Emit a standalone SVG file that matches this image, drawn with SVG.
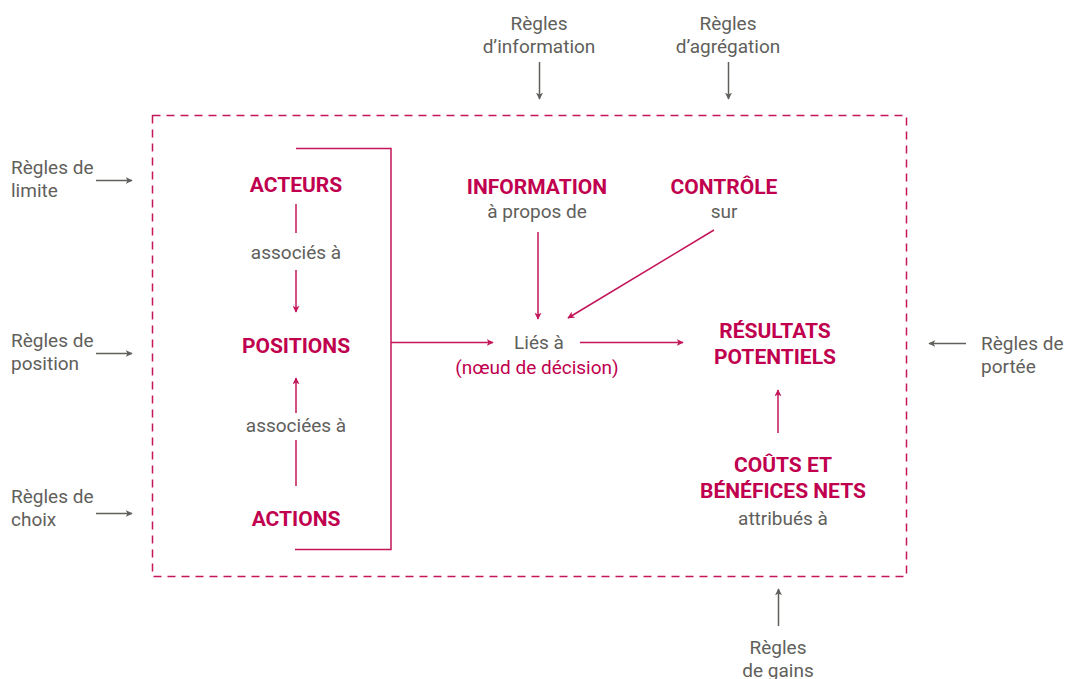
<svg xmlns="http://www.w3.org/2000/svg" width="1065" height="679" viewBox="0 0 1065 679">
<defs>
<marker id="ap" viewBox="0 0 10 10" refX="9" refY="5" markerWidth="7" markerHeight="7" markerUnits="userSpaceOnUse" orient="auto"><path d="M0,0 L10,5 L0,10 L2.5,5 z" fill="#c4165a"/></marker>
<marker id="ag" viewBox="0 0 10 10" refX="9" refY="5" markerWidth="7" markerHeight="7" markerUnits="userSpaceOnUse" orient="auto"><path d="M0,0 L10,5 L0,10 L2.5,5 z" fill="#5f605b"/></marker>
<style>
.t{font-family:Roboto,"Liberation Sans",sans-serif;}
.b{font-weight:bold;font-size:21px;fill:#c0004e;text-anchor:middle;}
.g{font-size:19px;fill:#5f605b;}
.gm{font-size:19px;fill:#5f605b;text-anchor:middle;}
.pm{font-size:19px;fill:#c0004e;text-anchor:middle;}
.lp{stroke:#c4165a;stroke-width:1.5;fill:none;}
.lg{stroke:#5f605b;stroke-width:1.5;fill:none;}
</style>
</defs>
<rect x="152.5" y="115.5" width="754" height="461" fill="none" stroke="#c4165a" stroke-width="1.5" stroke-dasharray="8,6"/>

<g id="connectors">
<path class="lp" d="M296,148.5 H391 V549.5 H295"/>
<path class="lp" d="M391,342.5 H493" marker-end="url(#ap)"/>
<path class="lp" d="M580,342.5 H683" marker-end="url(#ap)"/>
<path class="lp" d="M296,204 V233"/>
<path class="lp" d="M296,270 V312" marker-end="url(#ap)"/>
<path class="lp" d="M296,486 V440"/>
<path class="lp" d="M296,413 V378" marker-end="url(#ap)"/>
<path class="lp" d="M538,232 V319" marker-end="url(#ap)"/>
<path class="lp" d="M714,230 L568,318" marker-end="url(#ap)"/>
<path class="lp" d="M778,433 V390" marker-end="url(#ap)"/>
<path class="lg" d="M96,180.5 H132" marker-end="url(#ag)"/>
<path class="lg" d="M96,353.5 H132" marker-end="url(#ag)"/>
<path class="lg" d="M96,513.5 H132" marker-end="url(#ag)"/>
<path class="lg" d="M539.5,62 V99" marker-end="url(#ag)"/>
<path class="lg" d="M728.5,62 V99" marker-end="url(#ag)"/>
<path class="lg" d="M966,343.5 H929" marker-end="url(#ag)"/>
<path class="lg" d="M778.5,626 V589" marker-end="url(#ag)"/>
</g>

<g id="acteurs" class="t"><text class="b" x="296" y="191.5">ACTEURS</text></g>
<g id="associes" class="t"><text class="gm" x="296" y="258.5">associés à</text></g>
<g id="positions" class="t"><text class="b" x="296" y="352.5">POSITIONS</text></g>
<g id="associees" class="t"><text class="gm" x="296" y="432">associées à</text></g>
<g id="actions" class="t"><text class="b" x="296" y="526">ACTIONS</text></g>
<g id="information" class="t"><text class="b" x="537" y="193.5">INFORMATION</text><text class="gm" x="537" y="217.5">à propos de</text></g>
<g id="controle" class="t"><text class="b" x="724" y="193.5">CONTRÔLE</text><text class="gm" x="724" y="217.5">sur</text></g>
<g id="lies" class="t"><text class="gm" x="539" y="348.5">Liés à</text><text class="pm" x="537" y="373.5">(nœud de décision)</text></g>
<g id="resultats" class="t"><text class="b" x="775" y="337.5">RÉSULTATS</text><text class="b" x="775" y="363.5">POTENTIELS</text></g>
<g id="couts" class="t"><text class="b" x="783" y="471.5">COÛTS ET</text><text class="b" x="783" y="497.5">BÉNÉFICES NETS</text><text class="gm" x="783" y="524.5">attribués à</text></g>

<g id="r-limite" class="t"><text class="g" x="11" y="173.5">Règles de</text><text class="g" x="11" y="196.5">limite</text></g>
<g id="r-position" class="t"><text class="g" x="11" y="346.5">Règles de</text><text class="g" x="11" y="369.5">position</text></g>
<g id="r-choix" class="t"><text class="g" x="11" y="502.5">Règles de</text><text class="g" x="11" y="525.5">choix</text></g>
<g id="r-information" class="t"><text class="gm" x="539" y="29.5">Règles</text><text class="gm" x="539" y="52.5">d’information</text></g>
<g id="r-agregation" class="t"><text class="gm" x="728" y="29.5">Règles</text><text class="gm" x="728" y="52.5">d’agrégation</text></g>
<g id="r-portee" class="t"><text class="g" x="981" y="349.5">Règles de</text><text class="g" x="981" y="372.5">portée</text></g>
<g id="r-gains" class="t"><text class="gm" x="778" y="653.5">Règles</text><text class="gm" x="778" y="676.5">de gains</text></g>
</svg>
